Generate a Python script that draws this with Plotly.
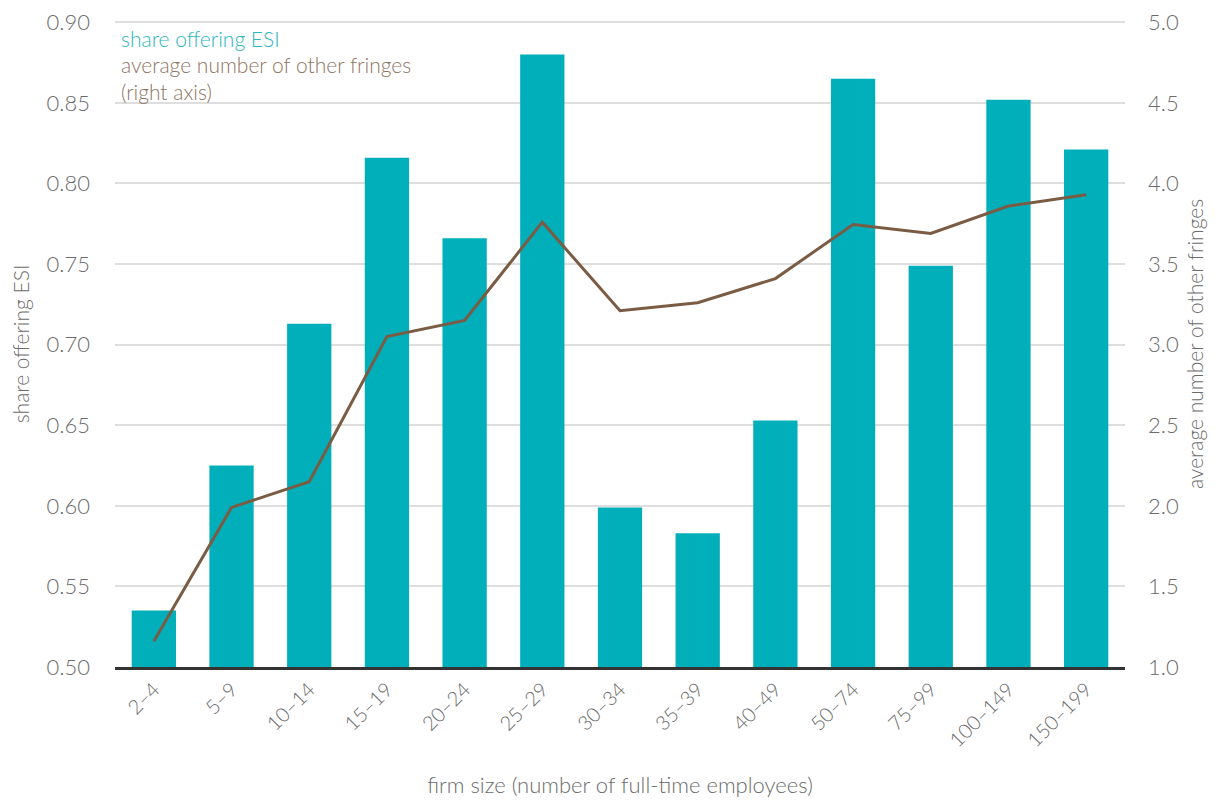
import plotly.graph_objects as go

categories = ["2–4", "5–9", "10–14", "15–19", "20–24", "25–29", "30–34",
              "35–39", "40–49", "50–74", "75–99", "100–149", "150–199"]
share_esi = [0.535, 0.625, 0.713, 0.816, 0.766, 0.880, 0.599,
             0.583, 0.653, 0.865, 0.749, 0.852, 0.821]
other_fringes = [1.16, 1.99, 2.15, 3.05, 3.15, 3.76, 3.21,
                 3.26, 3.41, 3.745, 3.69, 3.86, 3.93]
left_ticks = [0.50, 0.55, 0.60, 0.65, 0.70, 0.75, 0.80, 0.85, 0.90]
right_ticks = [1.0, 1.5, 2.0, 2.5, 3.0, 3.5, 4.0, 4.5, 5.0]

BAR = "#00AFBA"
LINE = "#7A5C44"
FONT = "Lato"
GRAY = "#6b6b6b"

fig = go.Figure()
fig.add_trace(go.Bar(x=categories, y=share_esi, marker=dict(color=BAR, line=dict(width=0)),
                     width=0.57, name="share offering ESI", yaxis="y"))
fig.add_trace(go.Scatter(x=categories, y=other_fringes, mode="lines",
                         line=dict(color=LINE, width=3), name="average number of other fringes",
                         yaxis="y2"))

fig.update_layout(
    width=1225, height=802,
    margin=dict(l=107, r=108, t=13, b=143, autoexpand=False),
    paper_bgcolor="white", plot_bgcolor="white",
    showlegend=False,
    font=dict(family=FONT, color=GRAY, weight=300),
    xaxis=dict(
        type="category", tickangle=-45, tickfont=dict(size=20, color=GRAY, weight=300),
        showline=True, linecolor="#333333", linewidth=3, ticks="", automargin=False,
        title=dict(text="firm size (number of full-time employees)",
                   font=dict(size=22, color=GRAY, weight=300), standoff=28),
        range=[-0.5, 12.5],
    ),
    yaxis=dict(
        range=[0.5, 0.9008], tickvals=left_ticks, ticktext=[f"{v:.2f}" for v in left_ticks],
        tickfont=dict(size=22, color=GRAY, weight=300), showgrid=True, gridcolor="#dedede", gridwidth=1.5,
        zeroline=False, ticks="", automargin=False, ticklabelstandoff=24, ticklabeloverflow="allow",
        title=dict(text="share offering ESI", font=dict(size=21, color=GRAY, weight=300), standoff=12),
    ),
    yaxis2=dict(
        range=[1.0, 5.008], tickvals=right_ticks, ticktext=[f"{v:.1f}" for v in right_ticks],
        overlaying="y", side="right", showgrid=False, zeroline=False, automargin=False,
        tickfont=dict(size=22, color=GRAY, weight=300), ticks="", ticklabelstandoff=22,
        ticklabeloverflow="allow",
        title=dict(text="average number of other fringes", font=dict(size=21, color=GRAY, weight=300), standoff=10),
    ),
)

fig.add_annotation(xref="paper", yref="paper", x=0.004, y=0.996, xanchor="left", yanchor="top",
                   text="share offering ESI", showarrow=False,
                   font=dict(size=21, color="#2BB6C0", family=FONT, weight=300))
fig.add_annotation(xref="paper", yref="paper", x=0.004, y=0.955, xanchor="left", yanchor="top",
                   text="average number of other fringes<br>(right axis)", showarrow=False, align="left",
                   font=dict(size=21, color="#8E7462", family=FONT, weight=300))

fig.write_html("out.html")
